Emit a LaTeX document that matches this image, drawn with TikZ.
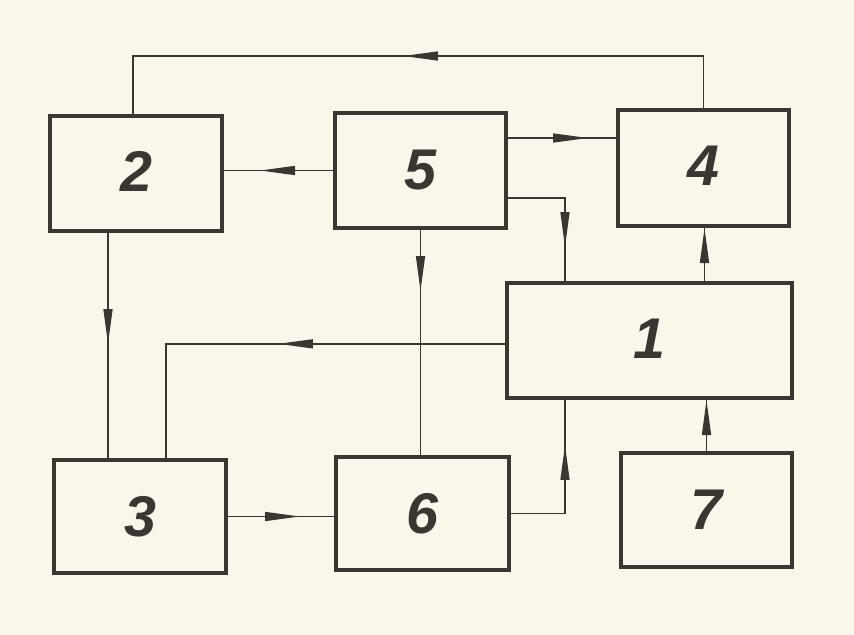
\documentclass[tikz,border=0pt]{standalone}
\usepackage{fontspec}
\setmainfont{Liberation Sans}
\usetikzlibrary{arrows.meta,decorations.markings}
\definecolor{paper}{HTML}{FAF6EA}
\definecolor{ink}{HTML}{3A3631}
\tikzset{
  blk/.style={draw=ink, line width=3.3pt, rectangle, inner sep=0pt, outer sep=0pt,
    font=\fontsize{49}{49}\selectfont\bfseries\itshape, text=ink},
  conn/.style={draw=ink, line width=1.2pt},
  midarrow/.style={postaction={decorate,decoration={markings,
    mark=at position #1 with {\arrow{Triangle[length=1.05cm,width=0.27cm]}}}}}
}
\begin{document}
\begin{tikzpicture}[x=0.03cm,y=-0.03cm]
\fill[paper] (0,0) rectangle (854,635);
\useasboundingbox (0,0) rectangle (854,635);
% blocks
\node[blk, minimum width=172*0.03cm, minimum height=115*0.03cm] (2) at (136,173.5) {\raisebox{0.12cm}{2}\hspace{0.3cm}};
\node[blk, minimum width=171*0.03cm, minimum height=115*0.03cm] (5) at (420.5,170.5) {5};
\node[blk, minimum width=171*0.03cm, minimum height=116*0.03cm] (4) at (703.5,168) {\raisebox{0.12cm}{4}};
\node[blk, minimum width=285*0.03cm, minimum height=115*0.03cm] (1) at (649.5,340.5) {\raisebox{0.1cm}{1}\hspace{0.3cm}};
\node[blk, minimum width=172*0.03cm, minimum height=113*0.03cm] (3) at (140,516.5) {3\hspace{0.3cm}};
\node[blk, minimum width=173*0.03cm, minimum height=113*0.03cm] (6) at (422.5,513.5) {6};
\node[blk, minimum width=171*0.03cm, minimum height=114*0.03cm] (7) at (706.5,510) {7};
% connectors
\draw[conn, midarrow=10.635cm] (4.north) -- ++(0,-54) -| ([xshift=-0.09cm]2.north);
\draw[conn, midarrow=2.25cm] (5.west) -- (5.west -| 2.east);
\draw[conn, midarrow=2.46cm] ([yshift=0.975cm]5.east) -- ([yshift=0.975cm]5.east -| 4.west);
\draw[conn, midarrow=3.24cm] ([yshift=-0.825cm]5.east) -| ([xshift=-2.535cm]1.north);
\draw[conn, midarrow=1.89cm] (5.south) -- (5.south |- 6.north);
\draw[conn, midarrow=3.39cm] ([xshift=-0.84cm]2.south) -- ([xshift=-0.84cm]2.south |- 3.north);
\draw[conn, midarrow=6.87cm] ([yshift=-0.1cm]1.west) -| ([xshift=0.78cm]3.north);
\draw[conn, midarrow=2.22cm] (3.east) -- (3.east -| 6.west);
\draw[conn, midarrow=3.735cm] (6.east) -| ([xshift=-2.535cm]1.south);
\draw[conn, midarrow=1.59cm] (7.north) -- (7.north |- 1.south);
\draw[conn, midarrow=1.65cm] ([xshift=0.03cm]4.south |- 1.north) -- ([xshift=0.03cm]4.south);
\end{tikzpicture}
\end{document}
